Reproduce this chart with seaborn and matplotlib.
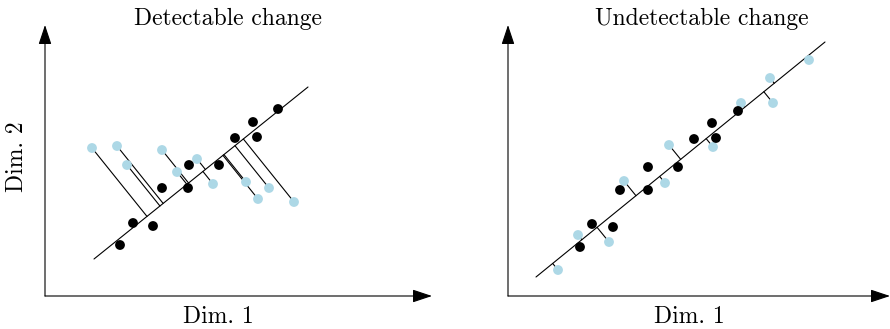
import numpy as np
import pandas as pd
import seaborn as sns
import matplotlib.pyplot as plt

sns.set_style("white")
plt.rcParams['font.family'] = ['cmr10', 'DejaVu Serif']
plt.rcParams['axes.formatter.use_mathtext'] = True
plt.rcParams['text.color'] = 'black'

# reference points (black) and new points (light blue), both panels
left_black_x = [23.3, 20.8, 19.0, 21.2, 14.4, 17.4, 11.7, 14.3, 8.8, 10.8, 7.5]
left_black_y = [18.7, 17.4, 15.8, 15.9, 13.1, 13.1, 10.8, 10.8, 7.3, 7.0, 5.1]
left_blue_x = [4.7, 7.2, 8.2, 11.7, 13.2, 15.2, 16.8, 20.1, 22.4, 21.3, 24.9]
left_blue_y = [14.8, 15.0, 13.1, 14.6, 12.4, 13.7, 11.2, 11.4, 10.8, 9.7, 9.4]
left_line_x = [4.9, 26.3]
left_line_y = [3.7, 20.9]

right_black_x = [23.0, 20.4, 20.8, 18.6, 17.0, 14.0, 14.0, 11.2, 8.4, 10.5, 7.2]
right_black_y = [18.5, 17.3, 15.8, 15.7, 12.9, 12.9, 10.6, 10.6, 7.2, 6.9, 4.9]
right_blue_x = [30.1, 26.2, 26.5, 23.3, 20.5, 16.1, 15.7, 11.6, 10.1, 7.0, 5.0]
right_blue_y = [23.6, 21.8, 19.3, 19.3, 14.9, 15.1, 11.3, 11.5, 5.4, 6.1, 2.6]
right_line_x = [2.8, 31.7]
right_line_y = [1.9, 25.4]

titles = ["Detectable change", "Undetectable change"]
xlabel = "Dim. 1"
ylabel = "Dim. 2"

W, H = 890, 329
fig = plt.figure(figsize=(W / 100, H / 100), dpi=100)


def panel(left_px, width_px, black_x, black_y, blue_x, blue_y, line_x, line_y,
          title, title_px, xlab_px, show_ylabel):
    ax = fig.add_axes([left_px / W, 33 / H, width_px / W, 280 / H])
    ax.set_xlim(0, width_px / 10)
    ax.set_ylim(0, 28)
    ax.set_aspect('equal')
    ax.axis('off')

    # projections of the blue points onto the line
    a = np.array([line_x[0], line_y[0]])
    d = np.array([line_x[1] - line_x[0], line_y[1] - line_y[0]])
    d = d / np.linalg.norm(d)
    for px, py in zip(blue_x, blue_y):
        p = np.array([px, py])
        foot = a + np.dot(p - a, d) * d
        ax.plot([px, foot[0]], [py, foot[1]], color='black', lw=0.8, zorder=1)

    ax.plot(line_x, line_y, color='black', lw=0.8, zorder=1)

    sns.scatterplot(x=blue_x, y=blue_y, color='#add8e6', s=50, edgecolor='none',
                    ax=ax, zorder=3, legend=False)
    sns.scatterplot(x=black_x, y=black_y, color='black', s=50, edgecolor='none',
                    ax=ax, zorder=3, legend=False)

    style = '-|>,head_length=0.6,head_width=0.2'
    ax.annotate('', xy=(38.7 if width_px > 385 else width_px / 10, 0), xytext=(0, 0),
                arrowprops=dict(arrowstyle=style, mutation_scale=20, color='black',
                                lw=0.8, shrinkA=0, shrinkB=0), annotation_clip=False)
    ax.annotate('', xy=(0, 27.1), xytext=(0, 0),
                arrowprops=dict(arrowstyle=style, mutation_scale=20, color='black',
                                lw=0.8, shrinkA=0, shrinkB=0), annotation_clip=False)

    fig.text(title_px / W, 1 - 19 / H, title, ha='center', va='center', fontsize=17)
    fig.text(xlab_px / W, 1 - 317 / H, xlabel, ha='center', va='center', fontsize=17)
    if show_ylabel:
        fig.text(17 / W, 1 - 157 / H, ylabel, ha='center', va='center',
                 rotation=90, fontsize=17)
    return ax


panel(45, 400, left_black_x, left_black_y, left_blue_x, left_blue_y,
      left_line_x, left_line_y, titles[0], 228, 218, True)
panel(508, 382, right_black_x, right_black_y, right_blue_x, right_blue_y,
      right_line_x, right_line_y, titles[1], 702, 689, False)

fig.savefig('out.png', dpi=100)
